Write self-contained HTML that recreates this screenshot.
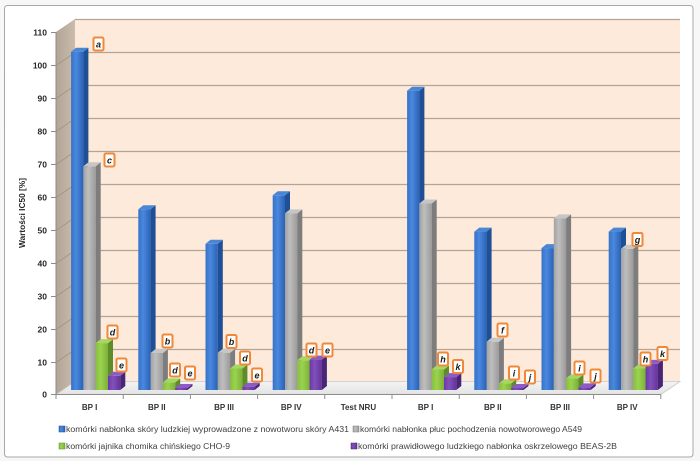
<!DOCTYPE html>
<html><head><meta charset="utf-8"><style>
html,body{margin:0;padding:0;background:#f7f7f7;}
svg{display:block;}
.t{font-family:"Liberation Sans",sans-serif;}
.lbl rect{fill:#fff;stroke:#f0883a;stroke-width:2;}
.lbl text{font-family:"Liberation Sans",sans-serif;font-weight:bold;font-style:italic;font-size:9px;fill:#1a1a1a;text-anchor:middle;}
.bs1{fill:#1f4f94}.bt1{fill:#4a86d6}
.bs2{fill:#7d7d7d}.bt2{fill:#c6c6c6}
.bs3{fill:#5e8c28}.bt3{fill:#a6d860}
.bs4{fill:#4a2475}.bt4{fill:#8c5cc4}
</style></head><body>
<svg width="700" height="461" viewBox="0 0 700 461" xmlns="http://www.w3.org/2000/svg">
<defs>
<linearGradient id="g1" x1="0" x2="1" y1="0" y2="0"><stop offset="0" stop-color="#3572c8"/><stop offset="0.4" stop-color="#4a88de"/><stop offset="1" stop-color="#2a62b6"/></linearGradient>
<linearGradient id="g2" x1="0" x2="1" y1="0" y2="0"><stop offset="0" stop-color="#a2a2a2"/><stop offset="0.4" stop-color="#bebebe"/><stop offset="1" stop-color="#9b9b9b"/></linearGradient>
<linearGradient id="g3" x1="0" x2="1" y1="0" y2="0"><stop offset="0" stop-color="#86bf3e"/><stop offset="0.4" stop-color="#9bd250"/><stop offset="1" stop-color="#7bb236"/></linearGradient>
<linearGradient id="g4" x1="0" x2="1" y1="0" y2="0"><stop offset="0" stop-color="#6c39a4"/><stop offset="0.4" stop-color="#8150bb"/><stop offset="1" stop-color="#64329a"/></linearGradient>
<linearGradient id="sw" x1="0" x2="1" y1="0" y2="0"><stop offset="0" stop-color="#b3a595"/><stop offset="1" stop-color="#c9bcad"/></linearGradient>
<linearGradient id="fl" x1="0" x2="0" y1="0" y2="1"><stop offset="0" stop-color="#f4f4f4"/><stop offset="1" stop-color="#e2e2e2"/></linearGradient>
</defs>
<rect x="4.5" y="5.5" width="688.5" height="451.5" rx="3" fill="#ffffff" stroke="#a8a8a8" stroke-width="1"/>

<!-- back wall -->
<rect x="75" y="19" width="605" height="362.5" fill="#fdeadb"/>
<g stroke="#b3a595" stroke-width="1.3">
<line x1="75" y1="19.5" x2="680" y2="19.5"/>
<line x1="75" y1="52.5" x2="680" y2="52.5"/>
<line x1="75" y1="85.5" x2="680" y2="85.5"/>
<line x1="75" y1="118.5" x2="680" y2="118.5"/>
<line x1="75" y1="151.5" x2="680" y2="151.5"/>
<line x1="75" y1="184.5" x2="680" y2="184.5"/>
<line x1="75" y1="217.5" x2="680" y2="217.5"/>
<line x1="75" y1="250.5" x2="680" y2="250.5"/>
<line x1="75" y1="283.5" x2="680" y2="283.5"/>
<line x1="75" y1="316.5" x2="680" y2="316.5"/>
<line x1="75" y1="349.5" x2="680" y2="349.5"/>
</g>
<!-- side wall -->
<polygon points="56,32 75,19 75,381.5 56,394.5" fill="url(#sw)"/>
<g stroke="#a39383" stroke-width="0.8">
<line x1="56" y1="65.5" x2="75" y2="52.5"/>
<line x1="56" y1="98.5" x2="75" y2="85.5"/>
<line x1="56" y1="131.5" x2="75" y2="118.5"/>
<line x1="56" y1="164.5" x2="75" y2="151.5"/>
<line x1="56" y1="197.5" x2="75" y2="184.5"/>
<line x1="56" y1="230.5" x2="75" y2="217.5"/>
<line x1="56" y1="263.5" x2="75" y2="250.5"/>
<line x1="56" y1="296.5" x2="75" y2="283.5"/>
<line x1="56" y1="329.5" x2="75" y2="316.5"/>
<line x1="56" y1="362.5" x2="75" y2="349.5"/>
</g>
<!-- floor -->
<polygon points="56,394.5 75,381.5 680,381.5 661,394.5" fill="url(#fl)" stroke="#c8c8c8" stroke-width="0.8"/>
<!-- axes -->
<g stroke="#8c8c8c" stroke-width="1">
<line x1="56" y1="32" x2="56" y2="394.5"/>
<line x1="56" y1="394.5" x2="661" y2="394.5"/>
<line x1="51" y1="32.5" x2="56" y2="32.5"/>
<line x1="51" y1="65.5" x2="56" y2="65.5"/>
<line x1="51" y1="98.5" x2="56" y2="98.5"/>
<line x1="51" y1="131.5" x2="56" y2="131.5"/>
<line x1="51" y1="164.5" x2="56" y2="164.5"/>
<line x1="51" y1="197.5" x2="56" y2="197.5"/>
<line x1="51" y1="230.5" x2="56" y2="230.5"/>
<line x1="51" y1="263.5" x2="56" y2="263.5"/>
<line x1="51" y1="296.5" x2="56" y2="296.5"/>
<line x1="51" y1="329.5" x2="56" y2="329.5"/>
<line x1="51" y1="362.5" x2="56" y2="362.5"/>
<line x1="51" y1="394.5" x2="56" y2="394.5"/>
<line x1="56" y1="394.5" x2="56" y2="399"/>
<line x1="123.2" y1="394.5" x2="123.2" y2="399"/>
<line x1="190.4" y1="394.5" x2="190.4" y2="399"/>
<line x1="257.6" y1="394.5" x2="257.6" y2="399"/>
<line x1="324.8" y1="394.5" x2="324.8" y2="399"/>
<line x1="392" y1="394.5" x2="392" y2="399"/>
<line x1="459.2" y1="394.5" x2="459.2" y2="399"/>
<line x1="526.4" y1="394.5" x2="526.4" y2="399"/>
<line x1="593.6" y1="394.5" x2="593.6" y2="399"/>
<line x1="660.8" y1="394.5" x2="660.8" y2="399"/>
</g>

<!-- y tick labels -->
<g class="t" font-size="8.5" font-weight="bold" fill="#262626" text-anchor="end">
<text x="47" y="35.5">110</text>
<text x="47" y="68.5">100</text>
<text x="47" y="101.5">90</text>
<text x="47" y="134.5">80</text>
<text x="47" y="167.5">70</text>
<text x="47" y="200.5">60</text>
<text x="47" y="233.5">50</text>
<text x="47" y="266.5">40</text>
<text x="47" y="299.5">30</text>
<text x="47" y="332.5">20</text>
<text x="47" y="365.5">10</text>
<text x="47" y="397.5">0</text>
</g>
<text class="t" transform="translate(25,213) rotate(-90)" font-size="8" font-weight="bold" fill="#262626" text-anchor="middle" textLength="70" lengthAdjust="spacingAndGlyphs">Wartości IC50 [%]</text>

<!-- category labels -->
<g class="t" font-size="8" font-weight="bold" fill="#333" text-anchor="middle">
<text x="89.6" y="410">BP I</text>
<text x="156.8" y="410">BP II</text>
<text x="224" y="410">BP III</text>
<text x="291.2" y="410">BP IV</text>
<text x="358.4" y="410">Test NRU</text>
<text x="425.6" y="410">BP I</text>
<text x="492.8" y="410">BP II</text>
<text x="560" y="410">BP III</text>
<text x="627.2" y="410">BP IV</text>
</g>

<!-- bars -->
<!-- G1 -->
<g transform="translate(71.1,51.75)"><rect width="12.3" height="338.25" fill="url(#g1)"/><polygon class="bs1" points="12.3,0 17.3,-4 17.3,334.25 12.3,338.25"/><polygon class="bt1" points="0,0 5,-4 17.3,-4 12.3,0"/></g>
<g transform="translate(83.4,166.3)"><rect width="12.3" height="223.7" fill="url(#g2)"/><polygon class="bs2" points="12.3,0 17.3,-4 17.3,219.7 12.3,223.7"/><polygon class="bt2" points="0,0 5,-4 17.3,-4 12.3,0"/></g>
<g transform="translate(95.7,343.1)"><rect width="12.3" height="46.9" fill="url(#g3)"/><polygon class="bs3" points="12.3,0 17.3,-4 17.3,42.9 12.3,46.9"/><polygon class="bt3" points="0,0 5,-4 17.3,-4 12.3,0"/></g>
<g transform="translate(108,375.8)"><rect width="12.3" height="14.2" fill="url(#g4)"/><polygon class="bs4" points="12.3,0 17.3,-4 17.3,10.2 12.3,14.2"/><polygon class="bt4" points="0,0 5,-4 17.3,-4 12.3,0"/></g>
<!-- G2 -->
<g transform="translate(138.3,209.2)"><rect width="12.3" height="180.8" fill="url(#g1)"/><polygon class="bs1" points="12.3,0 17.3,-4 17.3,176.8 12.3,180.8"/><polygon class="bt1" points="0,0 5,-4 17.3,-4 12.3,0"/></g>
<g transform="translate(150.6,353)"><rect width="12.3" height="37" fill="url(#g2)"/><polygon class="bs2" points="12.3,0 17.3,-4 17.3,33 12.3,37"/><polygon class="bt2" points="0,0 5,-4 17.3,-4 12.3,0"/></g>
<g transform="translate(162.9,382.4)"><rect width="12.3" height="7.6" fill="url(#g3)"/><polygon class="bs3" points="12.3,0 17.3,-4 17.3,3.6 12.3,7.6"/><polygon class="bt3" points="0,0 5,-4 17.3,-4 12.3,0"/></g>
<g transform="translate(175.2,388)"><rect width="12.3" height="2" fill="url(#g4)"/><polygon class="bs4" points="12.3,0 17.3,-4 17.3,-2 12.3,2"/><polygon class="bt4" points="0,0 5,-4 17.3,-4 12.3,0"/></g>
<!-- G3 -->
<g transform="translate(205.5,243.8)"><rect width="12.3" height="146.2" fill="url(#g1)"/><polygon class="bs1" points="12.3,0 17.3,-4 17.3,142.2 12.3,146.2"/><polygon class="bt1" points="0,0 5,-4 17.3,-4 12.3,0"/></g>
<g transform="translate(217.8,352.7)"><rect width="12.3" height="37.3" fill="url(#g2)"/><polygon class="bs2" points="12.3,0 17.3,-4 17.3,33.3 12.3,37.3"/><polygon class="bt2" points="0,0 5,-4 17.3,-4 12.3,0"/></g>
<g transform="translate(230.1,368.5)"><rect width="12.3" height="21.5" fill="url(#g3)"/><polygon class="bs3" points="12.3,0 17.3,-4 17.3,17.5 12.3,21.5"/><polygon class="bt3" points="0,0 5,-4 17.3,-4 12.3,0"/></g>
<g transform="translate(242.4,386.7)"><rect width="12.3" height="3.3" fill="url(#g4)"/><polygon class="bs4" points="12.3,0 17.3,-4 17.3,-0.7 12.3,3.3"/><polygon class="bt4" points="0,0 5,-4 17.3,-4 12.3,0"/></g>
<!-- G4 -->
<g transform="translate(272.7,195.3)"><rect width="12.3" height="194.7" fill="url(#g1)"/><polygon class="bs1" points="12.3,0 17.3,-4 17.3,190.7 12.3,194.7"/><polygon class="bt1" points="0,0 5,-4 17.3,-4 12.3,0"/></g>
<g transform="translate(285,213.4)"><rect width="12.3" height="176.6" fill="url(#g2)"/><polygon class="bs2" points="12.3,0 17.3,-4 17.3,172.6 12.3,176.6"/><polygon class="bt2" points="0,0 5,-4 17.3,-4 12.3,0"/></g>
<g transform="translate(297.3,360.3)"><rect width="12.3" height="29.7" fill="url(#g3)"/><polygon class="bs3" points="12.3,0 17.3,-4 17.3,25.7 12.3,29.7"/><polygon class="bt3" points="0,0 5,-4 17.3,-4 12.3,0"/></g>
<g transform="translate(309.6,359.6)"><rect width="12.3" height="30.4" fill="url(#g4)"/><polygon class="bs4" points="12.3,0 17.3,-4 17.3,26.4 12.3,30.4"/><polygon class="bt4" points="0,0 5,-4 17.3,-4 12.3,0"/></g>
<!-- G6 -->
<g transform="translate(407.1,90.7)"><rect width="12.3" height="299.3" fill="url(#g1)"/><polygon class="bs1" points="12.3,0 17.3,-4 17.3,295.3 12.3,299.3"/><polygon class="bt1" points="0,0 5,-4 17.3,-4 12.3,0"/></g>
<g transform="translate(419.4,203.5)"><rect width="12.3" height="186.5" fill="url(#g2)"/><polygon class="bs2" points="12.3,0 17.3,-4 17.3,182.5 12.3,186.5"/><polygon class="bt2" points="0,0 5,-4 17.3,-4 12.3,0"/></g>
<g transform="translate(431.7,369.5)"><rect width="12.3" height="20.5" fill="url(#g3)"/><polygon class="bs3" points="12.3,0 17.3,-4 17.3,16.5 12.3,20.5"/><polygon class="bt3" points="0,0 5,-4 17.3,-4 12.3,0"/></g>
<g transform="translate(444,377.1)"><rect width="12.3" height="12.9" fill="url(#g4)"/><polygon class="bs4" points="12.3,0 17.3,-4 17.3,8.9 12.3,12.9"/><polygon class="bt4" points="0,0 5,-4 17.3,-4 12.3,0"/></g>
<!-- G7 -->
<g transform="translate(474.3,231.6)"><rect width="12.3" height="158.4" fill="url(#g1)"/><polygon class="bs1" points="12.3,0 17.3,-4 17.3,154.4 12.3,158.4"/><polygon class="bt1" points="0,0 5,-4 17.3,-4 12.3,0"/></g>
<g transform="translate(486.6,341.8)"><rect width="12.3" height="48.2" fill="url(#g2)"/><polygon class="bs2" points="12.3,0 17.3,-4 17.3,44.2 12.3,48.2"/><polygon class="bt2" points="0,0 5,-4 17.3,-4 12.3,0"/></g>
<g transform="translate(498.9,383.4)"><rect width="12.3" height="6.6" fill="url(#g3)"/><polygon class="bs3" points="12.3,0 17.3,-4 17.3,2.6 12.3,6.6"/><polygon class="bt3" points="0,0 5,-4 17.3,-4 12.3,0"/></g>
<g transform="translate(511.2,388)"><rect width="12.3" height="2" fill="url(#g4)"/><polygon class="bs4" points="12.3,0 17.3,-4 17.3,-2 12.3,2"/><polygon class="bt4" points="0,0 5,-4 17.3,-4 12.3,0"/></g>
<!-- G8 -->
<g transform="translate(541.5,248.1)"><rect width="12.3" height="141.9" fill="url(#g1)"/><polygon class="bs1" points="12.3,0 17.3,-4 17.3,137.9 12.3,141.9"/><polygon class="bt1" points="0,0 5,-4 17.3,-4 12.3,0"/></g>
<g transform="translate(553.8,218.4)"><rect width="12.3" height="171.6" fill="url(#g2)"/><polygon class="bs2" points="12.3,0 17.3,-4 17.3,167.6 12.3,171.6"/><polygon class="bt2" points="0,0 5,-4 17.3,-4 12.3,0"/></g>
<g transform="translate(566.1,378.4)"><rect width="12.3" height="11.6" fill="url(#g3)"/><polygon class="bs3" points="12.3,0 17.3,-4 17.3,7.6 12.3,11.6"/><polygon class="bt3" points="0,0 5,-4 17.3,-4 12.3,0"/></g>
<g transform="translate(578.4,387.4)"><rect width="12.3" height="2.6" fill="url(#g4)"/><polygon class="bs4" points="12.3,0 17.3,-4 17.3,-1.4 12.3,2.6"/><polygon class="bt4" points="0,0 5,-4 17.3,-4 12.3,0"/></g>
<!-- G9 -->
<g transform="translate(608.7,231.6)"><rect width="12.3" height="158.4" fill="url(#g1)"/><polygon class="bs1" points="12.3,0 17.3,-4 17.3,154.4 12.3,158.4"/><polygon class="bt1" points="0,0 5,-4 17.3,-4 12.3,0"/></g>
<g transform="translate(621,248.8)"><rect width="12.3" height="141.2" fill="url(#g2)"/><polygon class="bs2" points="12.3,0 17.3,-4 17.3,137.2 12.3,141.2"/><polygon class="bt2" points="0,0 5,-4 17.3,-4 12.3,0"/></g>
<g transform="translate(633.3,368.5)"><rect width="12.3" height="21.5" fill="url(#g3)"/><polygon class="bs3" points="12.3,0 17.3,-4 17.3,17.5 12.3,21.5"/><polygon class="bt3" points="0,0 5,-4 17.3,-4 12.3,0"/></g>
<g transform="translate(645.6,363.9)"><rect width="12.3" height="26.1" fill="url(#g4)"/><polygon class="bs4" points="12.3,0 17.3,-4 17.3,22.1 12.3,26.1"/><polygon class="bt4" points="0,0 5,-4 17.3,-4 12.3,0"/></g>

<!-- letter labels -->
<g class="lbl">
<g transform="translate(98.5,44)"><rect x="-5" y="-6.5" width="10" height="13" rx="1.5"/><text y="3.3">a</text></g>
<g transform="translate(109.5,160)"><rect x="-5" y="-6.5" width="10" height="13" rx="1.5"/><text y="3.3">c</text></g>
<g transform="translate(112.5,332)"><rect x="-5" y="-6.5" width="10" height="13" rx="1.5"/><text y="3.3">d</text></g>
<g transform="translate(121.5,365)"><rect x="-5" y="-6.5" width="10" height="13" rx="1.5"/><text y="3.3">e</text></g>
<g transform="translate(167.5,341)"><rect x="-5" y="-6.5" width="10" height="13" rx="1.5"/><text y="3.3">b</text></g>
<g transform="translate(175,370)"><rect x="-5" y="-6.5" width="10" height="13" rx="1.5"/><text y="3.3">d</text></g>
<g transform="translate(190,373)"><rect x="-5" y="-6.5" width="10" height="13" rx="1.5"/><text y="3.3">e</text></g>
<g transform="translate(231.5,341.5)"><rect x="-5" y="-6.5" width="10" height="13" rx="1.5"/><text y="3.3">b</text></g>
<g transform="translate(245,358)"><rect x="-5" y="-6.5" width="10" height="13" rx="1.5"/><text y="3.3">d</text></g>
<g transform="translate(257,375)"><rect x="-5" y="-6.5" width="10" height="13" rx="1.5"/><text y="3.3">e</text></g>
<g transform="translate(311.5,350)"><rect x="-5" y="-6.5" width="10" height="13" rx="1.5"/><text y="3.3">d</text></g>
<g transform="translate(327.5,350)"><rect x="-5" y="-6.5" width="10" height="13" rx="1.5"/><text y="3.3">e</text></g>
<g transform="translate(443,359)"><rect x="-5" y="-6.5" width="10" height="13" rx="1.5"/><text y="3.3">h</text></g>
<g transform="translate(458,366.5)"><rect x="-5" y="-6.5" width="10" height="13" rx="1.5"/><text y="3.3">k</text></g>
<g transform="translate(502.5,330)"><rect x="-5" y="-6.5" width="10" height="13" rx="1.5"/><text y="3.3">f</text></g>
<g transform="translate(514,373)"><rect x="-5" y="-6.5" width="10" height="13" rx="1.5"/><text y="3.3">i</text></g>
<g transform="translate(530,377)"><rect x="-5" y="-6.5" width="10" height="13" rx="1.5"/><text y="3.3">j</text></g>
<g transform="translate(579.5,368)"><rect x="-5" y="-6.5" width="10" height="13" rx="1.5"/><text y="3.3">i</text></g>
<g transform="translate(595.5,376)"><rect x="-5" y="-6.5" width="10" height="13" rx="1.5"/><text y="3.3">j</text></g>
<g transform="translate(637.5,239.5)"><rect x="-5" y="-6.5" width="10" height="13" rx="1.5"/><text y="3.3">g</text></g>
<g transform="translate(645.5,359)"><rect x="-5" y="-6.5" width="10" height="13" rx="1.5"/><text y="3.3">h</text></g>
<g transform="translate(662.5,353.5)"><rect x="-5" y="-6.5" width="10" height="13" rx="1.5"/><text y="3.3">k</text></g>
</g>

<!-- legend -->
<rect x="59" y="426" width="6" height="6" fill="url(#g1)" stroke="#1f4f94" stroke-width="0.5"/>
<rect x="353" y="426" width="6" height="6" fill="url(#g2)" stroke="#7d7d7d" stroke-width="0.5"/>
<rect x="59" y="443" width="6" height="6" fill="url(#g3)" stroke="#5e8c28" stroke-width="0.5"/>
<rect x="351" y="443" width="6" height="6" fill="url(#g4)" stroke="#4a2475" stroke-width="0.5"/>
<g class="t" font-size="8" fill="#404040">
<text x="66" y="432" textLength="283" lengthAdjust="spacingAndGlyphs">komórki nabłonka skóry ludzkiej wyprowadzone z nowotworu skóry A431</text>
<text x="360" y="432" textLength="222" lengthAdjust="spacingAndGlyphs">komórki nabłonka płuc pochodzenia nowotworowego A549</text>
<text x="66" y="449" textLength="164" lengthAdjust="spacingAndGlyphs">komórki jajnika chomika chińskiego CHO-9</text>
<text x="358" y="449" textLength="259" lengthAdjust="spacingAndGlyphs">komórki prawidłowego ludzkiego nabłonka oskrzelowego BEAS-2B</text>
</g>
</svg>
</body></html>
